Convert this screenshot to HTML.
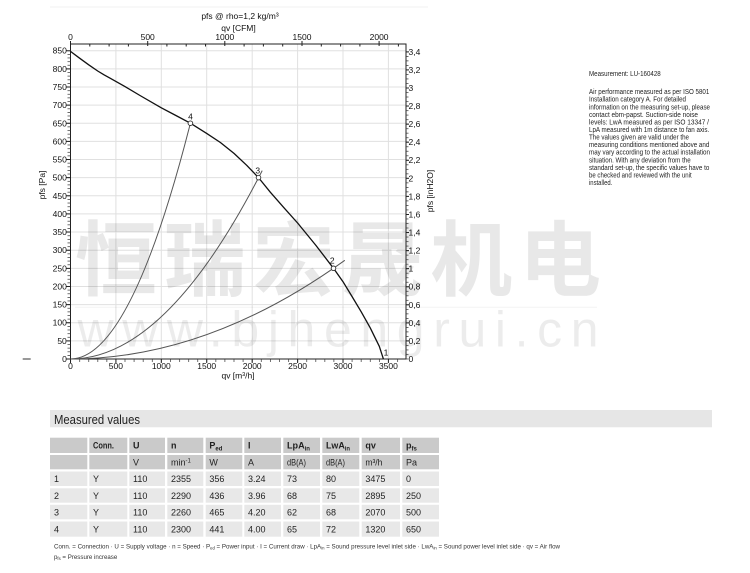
<!DOCTYPE html>
<html>
<head>
<meta charset="utf-8">
<style>
  html,body{margin:0;padding:0;background:#fff;}
  svg{display:block;}
  text{font-family:"Liberation Sans","Noto Sans CJK SC",sans-serif;}
</style>
</head>
<body>
<svg width="750" height="573" viewBox="0 0 750 573" xmlns="http://www.w3.org/2000/svg">
  <defs>
    <pattern id="pl" patternUnits="userSpaceOnUse" x="67.5" y="358.65" width="3" height="3.627">
      <rect x="0" y="0" width="3" height="0.7" fill="#333"/>
    </pattern>
    <pattern id="pr" patternUnits="userSpaceOnUse" x="406" y="358.65" width="2.5" height="4.517">
      <rect x="0" y="0" width="2.5" height="0.7" fill="#333"/>
    </pattern>
    <pattern id="pb" patternUnits="userSpaceOnUse" x="70.15" y="359" width="9.083" height="3">
      <rect x="0" y="0" width="0.7" height="3" fill="#333"/>
    </pattern>
  </defs>
  <rect width="750" height="573" fill="#fff"/>
  <line x1="50" y1="7" x2="428" y2="7" stroke="#f1f1f1" stroke-width="1"/>

  <!-- grid -->
  <g stroke="#e0e0e0" stroke-width="1">
    <path d="M70.5,340.87H406M70.5,322.73H406M70.5,304.6H406M70.5,286.46H406M70.5,268.33H406M70.5,250.19H406M70.5,232.06H406M70.5,213.92H406M70.5,195.79H406M70.5,177.65H406M70.5,159.52H406M70.5,141.38H406M70.5,123.25H406M70.5,105.11H406M70.5,86.98H406M70.5,68.84H406M70.5,50.71H406"/>
    <path d="M115.9,44V359M161.3,44V359M206.7,44V359M252.2,44V359M297.6,44V359M343,44V359M388.4,44V359"/>
  </g>

  <!-- watermark -->
  <text x="75" y="289" font-size="82" font-weight="bold" textLength="526" lengthAdjust="spacing" fill="#000" fill-opacity="0.09" style='font-family:"Noto Sans CJK SC","WenQuanYi Zen Hei",sans-serif'>恒瑞宏晟机电</text>
  <line x1="75" y1="307.3" x2="597" y2="307.3" stroke="#000" stroke-opacity="0.05" stroke-width="1"/>
  <text x="77.5" y="346.7" font-size="50" textLength="521" lengthAdjust="spacing" fill="#000" fill-opacity="0.075">www.bjhengrui.cn</text>

  <!-- frame -->
  <rect x="70.5" y="44" width="335.5" height="315" fill="none" stroke="#222" stroke-width="1"/>

  <!-- ticks -->
  <rect x="67.5" y="50.5" width="3" height="309" fill="url(#pl)"/>
  <rect x="406" y="51" width="2.5" height="308.5" fill="url(#pr)"/>
  <rect x="70" y="359" width="336" height="3" fill="url(#pb)"/>
  <g stroke="#222" stroke-width="1">
    <path d="M66.5,359h4M66.5,340.87h4M66.5,322.73h4M66.5,304.6h4M66.5,286.46h4M66.5,268.33h4M66.5,250.19h4M66.5,232.06h4M66.5,213.92h4M66.5,195.79h4M66.5,177.65h4M66.5,159.52h4M66.5,141.38h4M66.5,123.25h4M66.5,105.11h4M66.5,86.98h4M66.5,68.84h4M66.5,50.71h4"/>
    <path d="M406,340.93h3M406,322.86h3M406,304.79h3M406,286.72h3M406,268.66h3M406,250.59h3M406,232.52h3M406,214.45h3M406,196.38h3M406,178.31h3M406,160.24h3M406,142.17h3M406,124.1h3M406,106.03h3M406,87.97h3M406,69.9h3M406,51.83h3"/>
    <path d="M70.5,359v4M115.9,359v4M161.3,359v4M206.7,359v4M252.2,359v4M297.6,359v4M343,359v4M388.4,359v4"/>
    <path d="M70.5,41v5M147.7,41v5M224.8,41v5M302,41v5M379.1,41v5"/>
    <path d="M89.8,44v2.5M109.1,44v2.5M128.4,44v2.5M166.9,44v2.5M186.2,44v2.5M205.5,44v2.5M244.1,44v2.5M263.4,44v2.5M282.7,44v2.5M321.3,44v2.5M340.6,44v2.5M359.9,44v2.5M398.4,44v2.5"/>
  </g>

  <!-- left tick labels -->
  <g font-size="8.5" fill="#111" text-anchor="end">
    <text x="66.8" y="362">0</text>
    <text x="66.8" y="343.9">50</text>
    <text x="66.8" y="325.7">100</text>
    <text x="66.8" y="307.6">150</text>
    <text x="66.8" y="289.5">200</text>
    <text x="66.8" y="271.3">250</text>
    <text x="66.8" y="253.2">300</text>
    <text x="66.8" y="235.1">350</text>
    <text x="66.8" y="216.9">400</text>
    <text x="66.8" y="198.8">450</text>
    <text x="66.8" y="180.7">500</text>
    <text x="66.8" y="162.5">550</text>
    <text x="66.8" y="144.4">600</text>
    <text x="66.8" y="126.3">650</text>
    <text x="66.8" y="108.1">700</text>
    <text x="66.8" y="90">750</text>
    <text x="66.8" y="71.8">800</text>
    <text x="66.8" y="53.7">850</text>
  </g>
  <!-- right tick labels -->
  <g font-size="8.5" fill="#111">
    <text x="408.5" y="362">0</text>
    <text x="408.5" y="343.9">0,2</text>
    <text x="408.5" y="325.9">0,4</text>
    <text x="408.5" y="307.8">0,6</text>
    <text x="408.5" y="289.7">0,8</text>
    <text x="408.5" y="271.7">1</text>
    <text x="408.5" y="253.6">1,2</text>
    <text x="408.5" y="235.5">1,4</text>
    <text x="408.5" y="217.5">1,6</text>
    <text x="408.5" y="199.4">1,8</text>
    <text x="408.5" y="181.3">2</text>
    <text x="408.5" y="163.2">2,2</text>
    <text x="408.5" y="145.2">2,4</text>
    <text x="408.5" y="127.1">2,6</text>
    <text x="408.5" y="109">2,8</text>
    <text x="408.5" y="91">3</text>
    <text x="408.5" y="72.9">3,2</text>
    <text x="408.5" y="54.8">3,4</text>
  </g>
  <!-- bottom tick labels -->
  <g font-size="8.5" fill="#111" text-anchor="middle">
    <text x="70.5" y="368.8">0</text>
    <text x="115.9" y="368.8">500</text>
    <text x="161.3" y="368.8">1000</text>
    <text x="206.7" y="368.8">1500</text>
    <text x="252.2" y="368.8">2000</text>
    <text x="297.6" y="368.8">2500</text>
    <text x="343" y="368.8">3000</text>
    <text x="388.4" y="368.8">3500</text>
    <text x="238" y="378.3">qv [m³/h]</text>
  </g>
  <!-- top tick labels -->
  <g font-size="8.5" fill="#111" text-anchor="middle">
    <text x="70.5" y="39.8">0</text>
    <text x="147.7" y="39.8">500</text>
    <text x="224.8" y="39.8">1000</text>
    <text x="302" y="39.8">1500</text>
    <text x="379.1" y="39.8">2000</text>
    <text x="238.5" y="30.8">qv [CFM]</text>
    <text x="240" y="19">pfs @ rho=1,2 kg/m³</text>
  </g>
  <!-- axis titles -->
  <text transform="translate(45,185) rotate(-90)" font-size="8.5" fill="#111" text-anchor="middle">pfs [Pa]</text>
  <text transform="translate(433,191) rotate(-90)" font-size="8.5" fill="#111" text-anchor="middle">pfs [inH2O]</text>

  <line x1="22.7" y1="359" x2="30.7" y2="359" stroke="#555" stroke-width="1.2"/>

  <!-- system curves -->
  <g fill="none" stroke="#555" stroke-width="1">
    <path d="M70.5,359Q130.45,359 190.4,123.2"/>
    <path d="M70.5,359Q166.35,359 262.2,170.6"/>
    <path d="M70.5,359Q207.65,359 344.8,260.3"/>
  </g>
  <!-- main curve -->
  <polyline fill="none" stroke="#111" stroke-width="1.3" stroke-linejoin="round" points="70.5,51.4 79.6,58.2 88.7,64.8 97.7,71 104,74.8 110.1,78.2 125,86.6 140,95.5 161.3,107.8 175.9,115.5 190.4,123.2 206.7,133.4 220.4,142.5 234,153.4 246.7,165.3 258.5,177.65 270.3,192.2 284,207.8 297.6,223 315.7,245.1 333.5,268.3 343,281.7 352.1,296.6 361.2,311.8 370.2,327.8 379.3,346.3 383.4,359"/>
  <g fill="#fff" stroke="#333" stroke-width="0.9">
    <circle cx="190.4" cy="123.2" r="2.3"/>
    <circle cx="258.5" cy="177.65" r="2.3"/>
    <circle cx="333.5" cy="268.3" r="2.3"/>
  </g>
  <g font-size="8.5" fill="#111" text-anchor="middle">
    <text x="190.5" y="119.7">4</text>
    <text x="257.7" y="173.7">3</text>
    <text x="332.3" y="263.3">2</text>
    <text x="386" y="355.3">1</text>
  </g>

  <!-- right info text -->
  <g font-size="7" fill="#222">
    <text x="589" y="75.8" textLength="71.7" lengthAdjust="spacingAndGlyphs">Measurement: LU-160428</text>
    <text x="589" y="94.1" textLength="120.3" lengthAdjust="spacingAndGlyphs">Air performance measured as per ISO 5801</text>
    <text x="589" y="101.7" textLength="97" lengthAdjust="spacingAndGlyphs">Installation category A. For detailed</text>
    <text x="589" y="109.3" textLength="121" lengthAdjust="spacingAndGlyphs">information on the measuring set-up, please</text>
    <text x="589" y="116.8" textLength="109" lengthAdjust="spacingAndGlyphs">contact ebm-papst. Suction-side noise</text>
    <text x="589" y="124.4" textLength="120" lengthAdjust="spacingAndGlyphs">levels: LwA measured as per ISO 13347 /</text>
    <text x="589" y="132" textLength="120.3" lengthAdjust="spacingAndGlyphs">LpA measured with 1m distance to fan axis.</text>
    <text x="589" y="139.6" textLength="100" lengthAdjust="spacingAndGlyphs">The values given are valid under the</text>
    <text x="589" y="147.2" textLength="120.3" lengthAdjust="spacingAndGlyphs">measuring conditions mentioned above and</text>
    <text x="589" y="154.7" textLength="121" lengthAdjust="spacingAndGlyphs">may vary according to the actual installation</text>
    <text x="589" y="162.3" textLength="101.7" lengthAdjust="spacingAndGlyphs">situation. With any deviation from the</text>
    <text x="589" y="169.9" textLength="120.3" lengthAdjust="spacingAndGlyphs">standard set-up, the specific values have to</text>
    <text x="589" y="177.5" textLength="102.7" lengthAdjust="spacingAndGlyphs">be checked and reviewed with the unit</text>
    <text x="589" y="185.1" textLength="23.3" lengthAdjust="spacingAndGlyphs">installed.</text>
  </g>

  <!-- Measured values -->
  <rect x="50" y="410" width="662" height="17.3" fill="#e6e6e6"/>
  <text x="54" y="423.8" font-size="12.5" fill="#222" textLength="86" lengthAdjust="spacingAndGlyphs">Measured values</text>

  <!-- table backgrounds -->
  <g fill="#cacaca">
    <rect x="50" y="437.7" width="37.3" height="15.3"/><rect x="89.3" y="437.7" width="38" height="15.3"/><rect x="129.3" y="437.7" width="35.7" height="15.3"/><rect x="167.3" y="437.7" width="36" height="15.3"/><rect x="205.7" y="437.7" width="36.6" height="15.3"/><rect x="244.3" y="437.7" width="36.7" height="15.3"/><rect x="283.3" y="437.7" width="36.7" height="15.3"/><rect x="322.3" y="437.7" width="37" height="15.3"/><rect x="361.7" y="437.7" width="38.3" height="15.3"/><rect x="402.3" y="437.7" width="36.7" height="15.3"/>
    <rect x="50" y="455" width="37.3" height="14.3"/><rect x="89.3" y="455" width="38" height="14.3"/><rect x="129.3" y="455" width="35.7" height="14.3"/><rect x="167.3" y="455" width="36" height="14.3"/><rect x="205.7" y="455" width="36.6" height="14.3"/><rect x="244.3" y="455" width="36.7" height="14.3"/><rect x="283.3" y="455" width="36.7" height="14.3"/><rect x="322.3" y="455" width="37" height="14.3"/><rect x="361.7" y="455" width="38.3" height="14.3"/><rect x="402.3" y="455" width="36.7" height="14.3"/>
  </g>
  <g fill="#e8e8e8">
    <rect x="50" y="471.5" width="37.3" height="14.5"/><rect x="89.3" y="471.5" width="38" height="14.5"/><rect x="129.3" y="471.5" width="35.7" height="14.5"/><rect x="167.3" y="471.5" width="36" height="14.5"/><rect x="205.7" y="471.5" width="36.6" height="14.5"/><rect x="244.3" y="471.5" width="36.7" height="14.5"/><rect x="283.3" y="471.5" width="36.7" height="14.5"/><rect x="322.3" y="471.5" width="37" height="14.5"/><rect x="361.7" y="471.5" width="38.3" height="14.5"/><rect x="402.3" y="471.5" width="36.7" height="14.5"/>
    <rect x="50" y="488.3" width="37.3" height="14.4"/><rect x="89.3" y="488.3" width="38" height="14.4"/><rect x="129.3" y="488.3" width="35.7" height="14.4"/><rect x="167.3" y="488.3" width="36" height="14.4"/><rect x="205.7" y="488.3" width="36.6" height="14.4"/><rect x="244.3" y="488.3" width="36.7" height="14.4"/><rect x="283.3" y="488.3" width="36.7" height="14.4"/><rect x="322.3" y="488.3" width="37" height="14.4"/><rect x="361.7" y="488.3" width="38.3" height="14.4"/><rect x="402.3" y="488.3" width="36.7" height="14.4"/>
    <rect x="50" y="504.8" width="37.3" height="14.5"/><rect x="89.3" y="504.8" width="38" height="14.5"/><rect x="129.3" y="504.8" width="35.7" height="14.5"/><rect x="167.3" y="504.8" width="36" height="14.5"/><rect x="205.7" y="504.8" width="36.6" height="14.5"/><rect x="244.3" y="504.8" width="36.7" height="14.5"/><rect x="283.3" y="504.8" width="36.7" height="14.5"/><rect x="322.3" y="504.8" width="37" height="14.5"/><rect x="361.7" y="504.8" width="38.3" height="14.5"/><rect x="402.3" y="504.8" width="36.7" height="14.5"/>
    <rect x="50" y="521.5" width="37.3" height="15.2"/><rect x="89.3" y="521.5" width="38" height="15.2"/><rect x="129.3" y="521.5" width="35.7" height="15.2"/><rect x="167.3" y="521.5" width="36" height="15.2"/><rect x="205.7" y="521.5" width="36.6" height="15.2"/><rect x="244.3" y="521.5" width="36.7" height="15.2"/><rect x="283.3" y="521.5" width="36.7" height="15.2"/><rect x="322.3" y="521.5" width="37" height="15.2"/><rect x="361.7" y="521.5" width="38.3" height="15.2"/><rect x="402.3" y="521.5" width="36.7" height="15.2"/>
  </g>

  <!-- header text -->
  <g font-size="9" font-weight="bold" fill="#222">
    <text x="93" y="448.7" textLength="21" lengthAdjust="spacingAndGlyphs">Conn.</text>
    <text x="133" y="448.7">U</text>
    <text x="171" y="448.7">n</text>
    <text x="209.4" y="448.7">P<tspan font-size="6" dy="2">ed</tspan></text>
    <text x="248" y="448.7">I</text>
    <text x="287" y="448.7" textLength="23" lengthAdjust="spacingAndGlyphs">LpA<tspan font-size="6" dy="2">in</tspan></text>
    <text x="326" y="448.7" textLength="24" lengthAdjust="spacingAndGlyphs">LwA<tspan font-size="6" dy="2">in</tspan></text>
    <text x="365.4" y="448.7">qv</text>
    <text x="406" y="448.7">p<tspan font-size="6" dy="2">fs</tspan></text>
  </g>
  <!-- units row -->
  <g font-size="9" fill="#222">
    <text x="133" y="465.5">V</text>
    <text x="171" y="465.5">min<tspan font-size="6" dy="-3">-1</tspan></text>
    <text x="209.4" y="465.5">W</text>
    <text x="248" y="465.5">A</text>
    <text x="287" y="465.5" textLength="19" lengthAdjust="spacingAndGlyphs">dB(A)</text>
    <text x="326" y="465.5" textLength="19" lengthAdjust="spacingAndGlyphs">dB(A)</text>
    <text x="365.4" y="465.5" textLength="17" lengthAdjust="spacingAndGlyphs">m³/h</text>
    <text x="406" y="465.5">Pa</text>
  </g>
  <!-- data rows -->
  <g font-size="9" fill="#222">
    <text x="54" y="482.1">1</text><text x="93" y="482.1">Y</text><text x="133" y="482.1">110</text><text x="171" y="482.1">2355</text><text x="209.4" y="482.1">356</text><text x="248" y="482.1">3.24</text><text x="287" y="482.1">73</text><text x="326" y="482.1">80</text><text x="365.4" y="482.1">3475</text><text x="406" y="482.1">0</text>
    <text x="54" y="498.8">2</text><text x="93" y="498.8">Y</text><text x="133" y="498.8">110</text><text x="171" y="498.8">2290</text><text x="209.4" y="498.8">436</text><text x="248" y="498.8">3.96</text><text x="287" y="498.8">68</text><text x="326" y="498.8">75</text><text x="365.4" y="498.8">2895</text><text x="406" y="498.8">250</text>
    <text x="54" y="515.3">3</text><text x="93" y="515.3">Y</text><text x="133" y="515.3">110</text><text x="171" y="515.3">2260</text><text x="209.4" y="515.3">465</text><text x="248" y="515.3">4.20</text><text x="287" y="515.3">62</text><text x="326" y="515.3">68</text><text x="365.4" y="515.3">2070</text><text x="406" y="515.3">500</text>
    <text x="54" y="532.4">4</text><text x="93" y="532.4">Y</text><text x="133" y="532.4">110</text><text x="171" y="532.4">2300</text><text x="209.4" y="532.4">441</text><text x="248" y="532.4">4.00</text><text x="287" y="532.4">65</text><text x="326" y="532.4">72</text><text x="365.4" y="532.4">1320</text><text x="406" y="532.4">650</text>
  </g>

  <!-- footnote -->
  <g font-size="6.6" fill="#333">
    <text x="54" y="548.4" textLength="506" lengthAdjust="spacingAndGlyphs">Conn. = Connection · U = Supply voltage · n = Speed · P<tspan font-size="4.5" dy="1.2">ed</tspan><tspan dy="-1.2"> = Power input · I = Current draw · LpA</tspan><tspan font-size="4.5" dy="1.2">in</tspan><tspan dy="-1.2"> = Sound pressure level inlet side · LwA</tspan><tspan font-size="4.5" dy="1.2">in</tspan><tspan dy="-1.2"> = Sound power level inlet side · qv = Air flow</tspan></text>
    <text x="54" y="559" textLength="63.3" lengthAdjust="spacingAndGlyphs">p<tspan font-size="4.5" dy="1.2">fs</tspan><tspan dy="-1.2"> = Pressure increase</tspan></text>
  </g>
</svg>
</body>
</html>
